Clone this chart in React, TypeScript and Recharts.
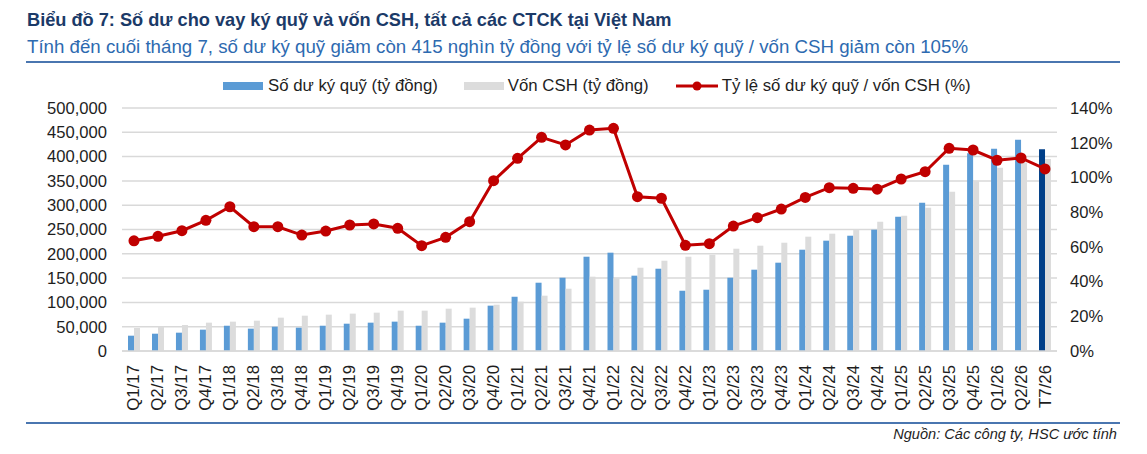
import React from 'react';
import { ComposedChart, Bar, Line, XAxis, YAxis, CartesianGrid, Legend, Cell } from 'recharts';

const categories = [
  'Q1/17', 'Q2/17', 'Q3/17', 'Q4/17',
  'Q1/18', 'Q2/18', 'Q3/18', 'Q4/18',
  'Q1/19', 'Q2/19', 'Q3/19', 'Q4/19',
  'Q1/20', 'Q2/20', 'Q3/20', 'Q4/20',
  'Q1/21', 'Q2/21', 'Q3/21', 'Q4/21',
  'Q1/22', 'Q2/22', 'Q3/22', 'Q4/22',
  'Q1/23', 'Q2/23', 'Q3/23', 'Q4/23',
  'Q1/24', 'Q2/24', 'Q3/24', 'Q4/24',
  'Q1/25', 'Q2/25', 'Q3/25', 'Q4/25',
  'Q1/26', 'Q2/26', 'T7/26',
];

// Số dư ký quỹ (tỷ đồng)
const marginBalance = [
  31500, 35600, 37700, 43900,
  52000, 46000, 50000, 48000,
  52000, 56200, 58300, 60400,
  52000, 58300, 66500, 93300,
  111800, 140500, 150800, 194000,
  202300, 155000, 169300, 124000,
  126100, 150800, 167300, 181700,
  208400, 227000, 237200, 249600,
  276400, 305100, 383300, 406800,
  416300, 434800, 415000,
];

// Vốn CSH (tỷ đồng)
const equity = [
  47300, 50000, 53500, 58300,
  60400, 62400, 68600, 72700,
  74800, 76900, 78900, 83000,
  83000, 87100, 89200, 95300,
  101500, 113800, 128200, 152900,
  150800, 171400, 185800, 194000,
  198100, 210500, 216700, 222800,
  235200, 241400, 249600, 266000,
  278400, 294900, 327800, 350400,
  377200, 388000, 395000,
];

// Tỷ lệ số dư ký quỹ / vốn CSH (%)
const ratio = [
  63.5, 66.1, 69.3, 75.3,
  83.1, 71.6, 71.6, 66.8,
  69.1, 72.6, 73.2, 70.7,
  60.7, 65.5, 74.5, 98.1,
  111.0, 123.1, 118.7, 127.3,
  128.3, 88.9, 88.0, 60.9,
  61.8, 72.0, 76.8, 81.8,
  88.5, 94.1, 93.7, 93.2,
  99.1, 103.3, 116.8, 115.8,
  109.9, 111.2, 104.9,
];

const leftTicks = [0, 50000, 100000, 150000, 200000, 250000, 300000, 350000, 400000, 450000, 500000];
const rightTicks = [0, 20, 40, 60, 80, 100, 120, 140];

const legendLabels = ['Số dư ký quỹ (tỷ đồng)', 'Vốn CSH (tỷ đồng)', 'Tỷ lệ số dư ký quỹ / vốn CSH (%)'];

const titleText = 'Biểu đồ 7: Số dư cho vay ký quỹ và vốn CSH, tất cả các CTCK tại Việt Nam';
const subtitleText = 'Tính đến cuối tháng 7, số dư ký quỹ giảm còn 415 nghìn tỷ đồng với tỷ lệ số dư ký quỹ / vốn CSH giảm còn 105%';
const sourceText = 'Nguồn: Các công ty, HSC ước tính';

const data = categories.map((name, i) => ({
  name,
  margin: marginBalance[i],
  equity: equity[i],
  ratio: ratio[i],
}));

const BLUE = '#5B9BD5';
const DARK_BLUE = '#003F88';
const GRAY = '#DCDCDC';
const RED = '#C00000';
const FONT = '"Liberation Sans", Arial, sans-serif';
const TEXT = '#1e1e1e';

const fmtThousands = (v: number) => v.toLocaleString('en-US');

const XTick = (props: any) => {
  const { x, y, payload } = props;
  return (
    <text
      x={x}
      y={y}
      transform={`rotate(-90, ${x}, ${y})`}
      textAnchor="end"
      dominantBaseline="central"
      fontFamily={FONT}
      fontSize={16.8}
      fill={TEXT}
    >
      {payload.value}
    </text>
  );
};

const renderLegend = () => {
  const item = (children: React.ReactNode, label: string, gap: number, extra: React.CSSProperties = {}) => (
    <div style={{ display: 'flex', alignItems: 'center', ...extra }}>
      {children}
      <span style={{ marginLeft: gap, whiteSpace: 'nowrap' }}>{label}</span>
    </div>
  );
  return (
    <div
      style={{
        display: 'flex',
        alignItems: 'center',
        fontFamily: FONT,
        fontSize: 16.8,
        color: TEXT,
        lineHeight: '20px',
        paddingLeft: 223,
      }}
    >
      {item(<div style={{ width: 40, height: 8, background: BLUE }} />, legendLabels[0], 5)}
      {item(<div style={{ width: 40, height: 8, background: GRAY }} />, legendLabels[1], 4, { marginLeft: 26 })}
      {item(
        <svg width={42} height={12}>
          <line x1={0} y1={6} x2={42} y2={6} stroke={RED} strokeWidth={3} />
          <circle cx={21} cy={6} r={4.5} fill={RED} />
        </svg>,
        legendLabels[2],
        4,
        { marginLeft: 27 }
      )}
    </div>
  );
};

export default function App() {
  return (
    <div
      style={{
        position: 'absolute',
        left: 0,
        top: 0,
        width: 1147,
        height: 454,
        background: '#ffffff',
        overflow: 'hidden',
      }}
    >
      <div
        style={{
          position: 'absolute',
          left: 27,
          top: 11.2,
          fontFamily: FONT,
          fontWeight: 'bold',
          fontSize: 18.2,
          lineHeight: 1,
          color: '#1B3A68',
          whiteSpace: 'nowrap',
        }}
      >
        {titleText}
      </div>
      <div
        style={{
          position: 'absolute',
          left: 27,
          top: 37.5,
          fontFamily: FONT,
          fontSize: 18.7,
          lineHeight: 1,
          color: '#2D6AB0',
          whiteSpace: 'nowrap',
        }}
      >
        {subtitleText}
      </div>
      <div style={{ position: 'absolute', left: 26, top: 60.5, width: 1094, height: 2, background: '#4A76B0' }} />

      <div style={{ position: 'absolute', left: 0, top: 0 }}>
        <ComposedChart
          width={1147}
          height={454}
          data={data}
          margin={{ top: 108, right: 0, bottom: 0, left: 0 }}
          barGap={0}
        >
          <CartesianGrid yAxisId="left" horizontal={true} vertical={false} stroke="#D9D9D9" strokeWidth={1.5} />
          <XAxis
            dataKey="name"
            height={103}
            interval={0}
            tickLine={false}
            axisLine={{ stroke: '#D9D9D9', strokeWidth: 1.5 }}
            tickSize={0}
            tickMargin={14}
            tick={<XTick />}
          />
          <YAxis
            yAxisId="left"
            orientation="left"
            width={122}
            domain={[0, 500000]}
            ticks={leftTicks}
            tickFormatter={fmtThousands}
            axisLine={false}
            tickLine={false}
            tickSize={0}
            tickMargin={15}
            tick={{ fontFamily: FONT, fontSize: 16.6, fill: TEXT }}
            interval={0}
          />
          <YAxis
            yAxisId="right"
            orientation="right"
            width={90}
            domain={[0, 140]}
            ticks={rightTicks}
            tickFormatter={(v: number) => `${v}%`}
            axisLine={false}
            tickLine={false}
            tickSize={0}
            tickMargin={13}
            tick={{ fontFamily: FONT, fontSize: 16.6, fill: TEXT, textAnchor: 'start' }}
            interval={0}
          />
          <Legend
            layout="horizontal"
            verticalAlign="middle"
            align="center"
            content={renderLegend}
            wrapperStyle={{ top: 76, left: 0, width: 1147 }}
          />
          <Bar yAxisId="left" dataKey="margin" name={legendLabels[0]} fill={BLUE} barSize={6} isAnimationActive={false}>
            {data.map((d, i) => (
              <Cell key={d.name} fill={i === data.length - 1 ? DARK_BLUE : BLUE} />
            ))}
          </Bar>
          <Bar yAxisId="left" dataKey="equity" name={legendLabels[1]} fill={GRAY} barSize={6} isAnimationActive={false} />
          <Line
            yAxisId="right"
            dataKey="ratio"
            name={legendLabels[2]}
            stroke={RED}
            strokeWidth={3}
            dot={{ r: 5.5, fill: RED, stroke: RED, strokeWidth: 0 }}
            activeDot={false}
            isAnimationActive={false}
          />
        </ComposedChart>
      </div>

      <div style={{ position: 'absolute', left: 26, top: 422, width: 1094, height: 2, background: '#4A76B0' }} />
      <div
        style={{
          position: 'absolute',
          right: 1147 - 1117,
          top: 427,
          fontFamily: FONT,
          fontStyle: 'italic',
          fontSize: 14.6,
          lineHeight: 1,
          color: TEXT,
          whiteSpace: 'nowrap',
        }}
      >
        {sourceText}
      </div>
    </div>
  );
}
